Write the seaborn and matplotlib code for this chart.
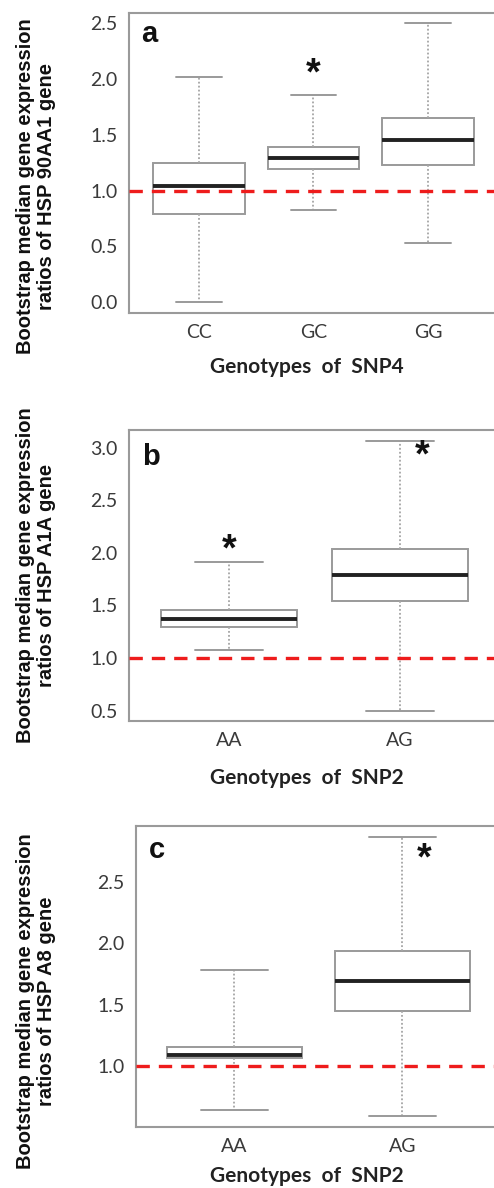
import numpy as np
import pandas as pd
import seaborn as sns
import matplotlib.pyplot as plt

# five-number summaries: min, q1, median, q3, max
geno_a = ['CC', 'GC', 'GG']
low_a = [0.00, 0.83, 0.53]
q1_a = [0.79, 1.19, 1.23]
med_a = [1.04, 1.29, 1.45]
q3_a = [1.25, 1.395, 1.655]
high_a = [2.02, 1.86, 2.50]

geno_b = ['AA', 'AG']
low_b = [1.08, 0.50]
q1_b = [1.30, 1.545]
med_b = [1.375, 1.79]
q3_b = [1.455, 2.04]
high_b = [1.91, 3.065]

geno_c = ['AA', 'AG']
low_c = [0.64, 0.595]
q1_c = [1.07, 1.45]
med_c = [1.095, 1.69]
q3_c = [1.155, 1.94]
high_c = [1.78, 2.865]

# significance stars (genotype, y)
stars_a = [('GC', 2.04)]
stars_b = [('AA', 2.02), ('AG', 2.92)]
stars_c = [('AG', 2.68)]

sns.set_style('white')

W, H = 494, 1188
fig = plt.figure(figsize=(W / 100, H / 100), dpi=100)

GRAY = '#9a9a9a'
TICKFONT = 'Lato'


def make_df(geno, lo, q1, med, q3, hi):
    rows = []
    for g, a, b, c, d, e in zip(geno, lo, q1, med, q3, hi):
        for v in (a, b, c, d, e):
            rows.append({'genotype': g, 'ratio': v})
    return pd.DataFrame(rows)


def panel(rect, geno, lo, q1, med, q3, hi, stars, xlim, ylim, yticks,
          letter, letter_y, gene, snp, ylab_pos, xlab_pos):
    ax = fig.add_axes(rect)
    df = make_df(geno, lo, q1, med, q3, hi)
    sns.boxplot(data=df, x='genotype', y='ratio', order=geno, ax=ax,
                whis=(0, 100), width=0.8, color='white', linewidth=1.4,
                showfliers=False,
                boxprops=dict(facecolor='white', edgecolor=GRAY, linewidth=1.4),
                medianprops=dict(color='#222222', linewidth=2.8),
                whiskerprops=dict(color='#a5a5a5', linestyle=(0, (1, 1.2)), linewidth=1.3),
                capprops=dict(color=GRAY, linewidth=1.4))
    # halve the caps like the original
    for line in ax.lines:
        xd = np.asarray(line.get_xdata(), dtype=float)
        yd = np.asarray(line.get_ydata(), dtype=float)
        if len(xd) == 2 and yd[0] == yd[1] and (yd[0] in lo or yd[0] in hi):
            c = xd.mean()
            line.set_xdata([c - 0.2, c + 0.2])
    ax.axhline(1.0, color='#ee1c1c', linestyle=(0, (4, 2.7)), linewidth=2.4,
               zorder=5)
    for g, y in stars:
        xpos = geno.index(g)
        if len(geno) == 2 and g == 'AG':
            xpos += 0.13
        ax.text(xpos, y, '*', ha='center', va='center', fontsize=27,
                fontweight='bold', family='Liberation Sans', color='#111111')
    ax.set_xlim(*xlim)
    ax.set_ylim(*ylim)
    ax.set_yticks(yticks)
    ax.set_yticklabels([f'{t:.1f}' for t in yticks])
    for s in ax.spines.values():
        s.set_color(GRAY)
        s.set_linewidth(1.5)
    ax.tick_params(axis='both', length=6, width=1, color=GRAY,
                   labelsize=14, labelcolor='#3a3a3a', pad=2)
    for t in ax.get_xticklabels() + ax.get_yticklabels():
        t.set_family(TICKFONT)
    ax.set_xlabel('Genotypes  of  ' + snp, family=TICKFONT, fontsize=15,
                  fontweight='bold', color='#222222', va='center')
    ax.xaxis.set_label_coords(*xlab_pos)
    ax.set_ylabel('Bootstrap median gene expression\nratios of HSP ' + gene + ' gene',
                  family='Liberation Sans', fontsize=14.5, fontweight='bold',
                  color='#111111', linespacing=1.15, va='center')
    ax.yaxis.set_label_coords(*ylab_pos)
    ax.text(0.034, letter_y, letter, transform=ax.transAxes, ha='left',
            va='baseline', fontsize=21, fontweight='bold',
            family='Liberation Sans', color='#111111')
    return ax


def rect(left, top, right, bottom):
    return [left / W, 1 - bottom / H, (right - left) / W, (bottom - top) / H]


ax_a = panel(rect(129, 13, 500, 313), geno_a, low_a, q1_a, med_a, q3_a, high_a,
             stars_a, (-0.611, 2.629), (-0.096, 2.592),
             [0.0, 0.5, 1.0, 1.5, 2.0, 2.5], 'a', 0.903, '90AA1', 'SNP4',
             ((36 - 129) / 371, 0.422), (0.48, -0.18))
ax_b = panel(rect(129, 430, 500, 721), geno_b, low_b, q1_b, med_b, q3_b, high_b,
             stars_b, (-0.585, 1.585), (0.402, 3.168),
             [0.5, 1.0, 1.5, 2.0, 2.5, 3.0], 'b', 0.880, 'A1A', 'SNP2',
             ((36 - 129) / 371, 0.5), (0.48, -0.196))
ax_c = panel(rect(136, 826, 500, 1127), geno_c, low_c, q1_c, med_c, q3_c, high_c,
             stars_c, (-0.585, 1.58), (0.505, 2.956),
             [1.0, 1.5, 2.0, 2.5], 'c', 0.894, 'A8', 'SNP2',
             ((36 - 136) / 364, 0.419), (0.47, -0.163))

fig.savefig('out.png', dpi=100)
